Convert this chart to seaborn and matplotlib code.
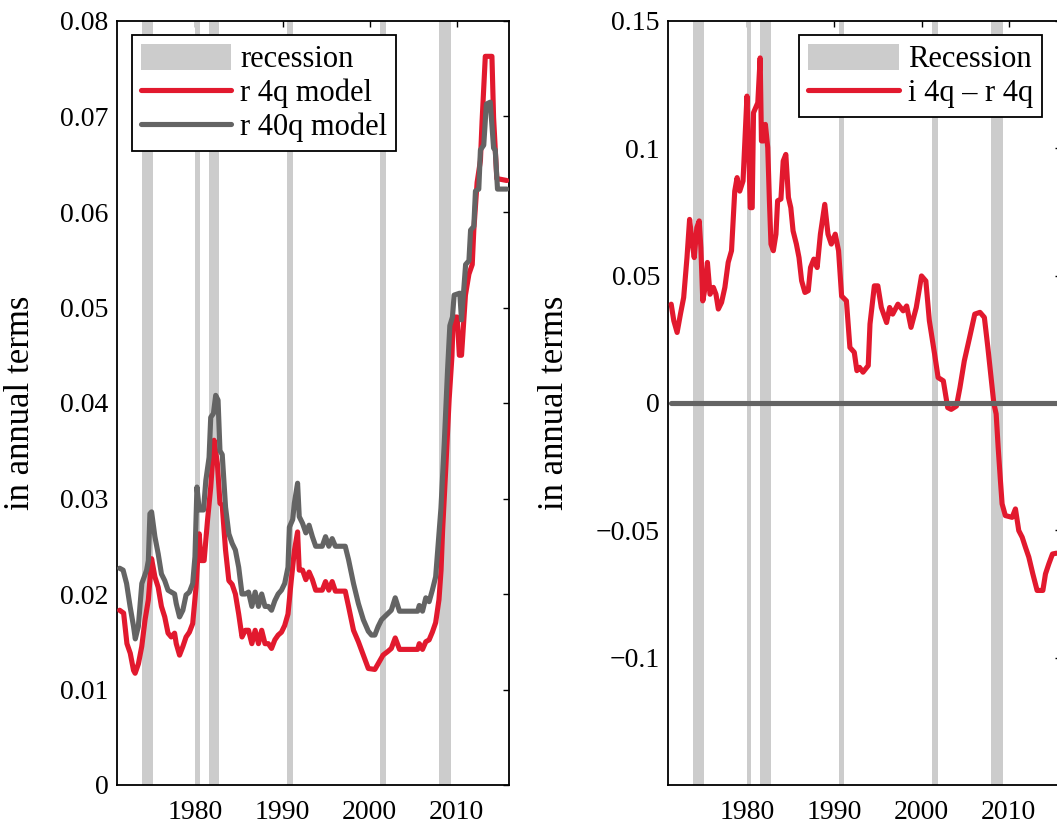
import matplotlib
matplotlib.use("Agg")
import matplotlib.pyplot as plt
from matplotlib.patches import Patch
from matplotlib.lines import Line2D
from matplotlib.ticker import FixedLocator, FuncFormatter
import numpy as np
import pandas as pd
import seaborn as sns

# ---------------------------------------------------------------- data
# NBER recession periods (decimal years)
REC_START = [1973.87, 1980.00, 1981.53, 1990.53, 2001.18, 2007.97]
REC_END = [1975.13, 1980.50, 1982.76, 1991.15, 2001.84, 2009.35]

# real rate, 4-quarter model
R4Q_YEAR = [1971.3, 1971.76, 1972.14, 1972.52, 1972.9, 1973.08, 1973.46, 1973.84, 1974.22, 1974.6,
            1974.97, 1975.35, 1975.73, 1976.1, 1976.48, 1976.86, 1977.23, 1977.61, 1977.8, 1978.18,
            1978.56, 1978.93, 1979.31, 1979.69, 1980.07, 1980.44, 1980.63, 1981.0, 1981.39, 1981.76,
            1982.14, 1982.52, 1982.82, 1983.08, 1983.46, 1983.84, 1984.22, 1984.59, 1984.97, 1985.35,
            1985.73, 1986.1, 1986.48, 1986.86, 1987.24, 1987.61, 1987.99, 1988.37, 1988.74, 1989.12,
            1989.5, 1989.88, 1990.25, 1990.63, 1991.0, 1991.36, 1991.73, 1991.92, 1992.3, 1992.68,
            1993.05, 1993.43, 1993.81, 1994.56, 1994.94, 1995.32, 1995.7, 1996.07, 1997.2, 1997.58,
            1998.15, 1998.71, 1999.28, 1999.85, 2000.6, 2000.98, 2001.54, 2002.11, 2002.49, 2002.94,
            2003.43, 2005.51, 2005.7, 2006.07, 2006.45, 2006.83, 2007.2, 2007.58, 2007.96, 2008.2,
            2008.38, 2008.76, 2009.13, 2009.45, 2009.6, 2010.05, 2010.3, 2010.55, 2011.0, 2011.4,
            2011.78, 2011.96, 2012.34, 2012.72, 2012.91, 2013.28, 2014.04, 2014.23, 2014.6, 2015.74]
R4Q = [0.0183, 0.0180, 0.0148, 0.0138, 0.0120, 0.0117, 0.0127, 0.0145, 0.0173, 0.0194,
       0.0237, 0.0218, 0.0207, 0.0187, 0.0176, 0.0159, 0.0155, 0.0159, 0.0148, 0.0136,
       0.0145, 0.0155, 0.0160, 0.0169, 0.0207, 0.0263, 0.0235, 0.0235, 0.0277, 0.0312,
       0.0361, 0.0337, 0.0295, 0.0293, 0.0246, 0.0214, 0.0210, 0.0200, 0.0179, 0.0155,
       0.0162, 0.0162, 0.0148, 0.0162, 0.0148, 0.0162, 0.0148, 0.0148, 0.0143, 0.0152,
       0.0157, 0.0160, 0.0167, 0.0179, 0.0214, 0.0245, 0.0265, 0.0225, 0.0225, 0.0215,
       0.0223, 0.0215, 0.0204, 0.0204, 0.0213, 0.0204, 0.0213, 0.0203, 0.0203, 0.0187,
       0.0162, 0.0150, 0.0136, 0.0122, 0.0121, 0.0127, 0.0136, 0.0140, 0.0143, 0.0154,
       0.0142, 0.0142, 0.0148, 0.0142, 0.0150, 0.0152, 0.0160, 0.0170, 0.0194, 0.0225,
       0.0267, 0.0335, 0.0404, 0.0449, 0.0490, 0.0490, 0.0450, 0.0450, 0.0513, 0.0535,
       0.0545, 0.0581, 0.0631, 0.0654, 0.0695, 0.0763, 0.0763, 0.0699, 0.0635, 0.0633]

# real rate, 40-quarter model
R40Q_YEAR = [1971.3, 1971.7, 1972.1, 1972.5, 1972.9, 1973.1, 1973.45, 1973.85, 1974.4, 1974.6,
             1974.78, 1974.97, 1975.35, 1975.73, 1976.1, 1976.48, 1976.86, 1977.23, 1977.61, 1977.8,
             1978.18, 1978.56, 1978.93, 1979.31, 1979.69, 1979.95, 1980.18, 1980.44, 1980.93, 1981.2,
             1981.57, 1981.76, 1982.07, 1982.33, 1982.6, 1982.82, 1983.08, 1983.46, 1983.84, 1984.22,
             1984.59, 1984.97, 1985.35, 1985.73, 1986.1, 1986.48, 1986.86, 1987.24, 1987.61, 1987.99,
             1988.37, 1988.74, 1989.12, 1989.5, 1989.88, 1990.25, 1990.63, 1990.79, 1991.17, 1991.36,
             1991.73, 1991.92, 1992.3, 1992.68, 1993.05, 1993.43, 1993.81, 1994.56, 1994.94, 1995.32,
             1995.7, 1996.07, 1997.2, 1997.58, 1998.15, 1998.71, 1999.28, 1999.85, 2000.22, 2000.6,
             2000.98, 2001.36, 2001.92, 2002.49, 2002.94, 2003.43, 2005.51, 2005.7, 2006.07, 2006.45,
             2006.83, 2007.2, 2007.58, 2007.81, 2008.19, 2008.57, 2008.95, 2009.21, 2009.51, 2009.7,
             2010.35, 2010.55, 2011.02, 2011.4, 2011.59, 2011.96, 2012.15, 2012.53, 2012.72, 2013.1,
             2013.4, 2013.85, 2014.23, 2014.42, 2014.68, 2015.74]
R40Q = [0.0227, 0.0225, 0.0211, 0.0187, 0.0166, 0.0153, 0.0166, 0.0211, 0.0225, 0.0235,
        0.0284, 0.0286, 0.0260, 0.0242, 0.0221, 0.0214, 0.0204, 0.0202, 0.0200, 0.0190,
        0.0176, 0.0183, 0.0199, 0.0202, 0.0211, 0.0239, 0.0312, 0.0288, 0.0288, 0.0319,
        0.0343, 0.0385, 0.0389, 0.0408, 0.0403, 0.0350, 0.0346, 0.0291, 0.0263, 0.0253,
        0.0246, 0.0228, 0.0200, 0.0200, 0.0202, 0.0187, 0.0202, 0.0187, 0.0200, 0.0187,
        0.0187, 0.0183, 0.0193, 0.0200, 0.0204, 0.0211, 0.0228, 0.0270, 0.0278, 0.0295,
        0.0316, 0.0281, 0.0274, 0.0264, 0.0272, 0.0260, 0.0250, 0.0250, 0.0260, 0.0250,
        0.0258, 0.0250, 0.0250, 0.0236, 0.0211, 0.0190, 0.0173, 0.0161, 0.0157, 0.0157,
        0.0166, 0.0173, 0.0178, 0.0183, 0.0196, 0.0182, 0.0182, 0.0188, 0.0182, 0.0196,
        0.0192, 0.0204, 0.0218, 0.0245, 0.0290, 0.0358, 0.0435, 0.0481, 0.0490, 0.0513,
        0.0515, 0.0487, 0.0545, 0.0549, 0.0581, 0.0585, 0.0622, 0.0624, 0.0665, 0.0670,
        0.0713, 0.0715, 0.0667, 0.0665, 0.0624, 0.0624]

# nominal minus real rate, 4-quarter horizon
GAP_YEAR = [1971.33, 1971.63, 1972.01, 1972.39, 1972.76, 1973.14, 1973.44, 1973.71, 1973.97, 1974.27,
            1974.54, 1974.73, 1974.95, 1975.22, 1975.48, 1975.78, 1976.16, 1976.46, 1976.73, 1977.1,
            1977.48, 1977.86, 1978.24, 1978.61, 1978.88, 1979.18, 1979.56, 1979.86, 1980.01, 1980.24,
            1980.39, 1980.61, 1980.76, 1981.25, 1981.52, 1981.67, 1981.9, 1982.12, 1982.39, 1982.58,
            1982.76, 1983.03, 1983.33, 1983.52, 1983.9, 1984.16, 1984.46, 1984.76, 1985.03, 1985.29,
            1985.67, 1985.97, 1986.27, 1986.65, 1987.03, 1987.29, 1987.67, 1988.05, 1988.42, 1988.92,
            1989.29, 1989.67, 1990.12, 1990.5, 1990.85, 1991.4, 1991.8, 1992.3, 1992.6, 1992.9,
            1993.3, 1993.9, 1994.1, 1994.6, 1995.0, 1995.4, 1996.0, 1996.35, 1996.7, 1997.3,
            1997.9, 1998.3, 1998.8, 1999.4, 2000.0, 2000.5, 2000.9, 2001.5, 2001.9, 2002.5,
            2003.0, 2003.4, 2004.0, 2004.4, 2004.9, 2005.5, 2006.1, 2006.7, 2007.2, 2007.6,
            2008.28, 2008.55, 2008.78, 2009.04, 2009.23, 2009.6, 2010.38, 2010.76, 2011.14, 2011.53,
            2011.9, 2012.29, 2012.75, 2013.24, 2013.9, 2014.2, 2014.58, 2015.0, 2015.4, 2015.75]
GAP = [0.0388, 0.0323, 0.0277, 0.0349, 0.0414, 0.0571, 0.0721, 0.0636, 0.0571, 0.0689,
       0.0715, 0.0610, 0.0401, 0.0454, 0.0552, 0.0427, 0.0454, 0.0427, 0.0369, 0.0395,
       0.0454, 0.0552, 0.0598, 0.0832, 0.0885, 0.0832, 0.0872, 0.1094, 0.1205, 0.0963,
       0.0767, 0.0767, 0.1140, 0.1179, 0.1355, 0.1029, 0.1029, 0.1094, 0.1003, 0.0794,
       0.0624, 0.0598, 0.0663, 0.0794, 0.0801, 0.0950, 0.0976, 0.0807, 0.0767, 0.0676,
       0.0624, 0.0571, 0.0480, 0.0434, 0.0441, 0.0532, 0.0565, 0.0532, 0.0663, 0.0780,
       0.0663, 0.0624, 0.0663, 0.0598, 0.0420, 0.0401, 0.0218, 0.0199, 0.0127, 0.0140,
       0.0121, 0.0147, 0.0310, 0.0460, 0.0460, 0.0375, 0.0316, 0.0375, 0.0349, 0.0388,
       0.0362, 0.0381, 0.0297, 0.0375, 0.0499, 0.0479, 0.0323, 0.0192, 0.0100, 0.0087,
       -0.0018, -0.0025, -0.0012, 0.0060, 0.0165, 0.0256, 0.0349, 0.0356, 0.0336, 0.0218,
       0.0000, -0.0043, -0.0174, -0.0305, -0.0396, -0.0442, -0.0449, -0.0416, -0.0501, -0.0527,
       -0.0566, -0.0605, -0.0671, -0.0736, -0.0736, -0.0671, -0.0632, -0.0593, -0.0590, -0.0590]

LEFT_TICKS_Y = [0, 0.01, 0.02, 0.03, 0.04, 0.05, 0.06, 0.07, 0.08]
RIGHT_TICKS_Y = [-0.1, -0.05, 0, 0.05, 0.1, 0.15]
TICKS_X = [1980, 1990, 2000, 2010]

# ---------------------------------------------------------------- style
RED = "#E2192E"
DARK = "#646464"
BAND = "#CCCCCC"

sns.set_theme(style="white")
plt.rcParams["font.family"] = ["Liberation Serif", "DejaVu Serif"]
plt.rcParams["axes.unicode_minus"] = True
plt.rcParams["text.color"] = "black"
plt.rcParams["axes.labelcolor"] = "black"
plt.rcParams["xtick.color"] = "black"
plt.rcParams["ytick.color"] = "black"

TICK_FS = 20
LEGEND_FS = 22
LABEL_FS = 25
LW = 3.7

fig = plt.figure(figsize=(10.57, 8.27), dpi=100)
W, H = 1057.0, 827.0
ax1 = fig.add_axes([117 / W, 42 / H, 392 / W, 764 / H])
ax2 = fig.add_axes([668.3 / W, 42 / H, 392.9 / W, 764 / H])


def num_fmt(v, _pos):
    s = "%g" % round(v, 4)
    if s == "-0":
        s = "0"
    return s.replace("-", "\u2212")


def style_axes(ax, yticks, ylim, label_x):
    ax.set_xlim(1971, 2016)
    ax.set_ylim(*ylim)
    ax.xaxis.set_major_locator(FixedLocator(TICKS_X))
    ax.yaxis.set_major_locator(FixedLocator(yticks))
    ax.yaxis.set_major_formatter(FuncFormatter(num_fmt))
    ax.xaxis.set_major_formatter(FuncFormatter(lambda v, p: "%d" % v))
    ax.tick_params(axis="both", which="major", direction="in", length=4.5, width=1.0,
                   top=True, right=True, labelsize=TICK_FS)
    ax.tick_params(axis="x", pad=11)
    ax.tick_params(axis="y", pad=6)
    for sp in ax.spines.values():
        sp.set_visible(True)
        sp.set_color("black")
        sp.set_linewidth(1.3)
    ax.set_xlabel("")
    ax.set_ylabel("in annual terms", fontsize=LABEL_FS)
    ax.yaxis.set_label_coords(label_x, 0.5)
    ax.grid(False)
    ax.set_facecolor("white")


def shade_recessions(ax):
    for s, e in zip(REC_START, REC_END):
        ax.axvspan(s, e, color=BAND, lw=0, zorder=1)


# ---------------------------------------------------------------- left panel
shade_recessions(ax1)
df_r4 = pd.DataFrame({"year": R4Q_YEAR, "value": R4Q})
df_r40 = pd.DataFrame({"year": R40Q_YEAR, "value": R40Q})
sns.lineplot(data=df_r4, x="year", y="value", ax=ax1, color=RED, lw=LW,
             sort=False, estimator=None, legend=False, zorder=3)
sns.lineplot(data=df_r40, x="year", y="value", ax=ax1, color=DARK, lw=LW,
             sort=False, estimator=None, legend=False, zorder=4)
style_axes(ax1, LEFT_TICKS_Y, (0, 0.08), -0.203)

leg_kw = dict(fontsize=LEGEND_FS, loc="upper left", borderaxespad=0, frameon=True,
              fancybox=False, framealpha=1, edgecolor="black", handlelength=2.95,
              handleheight=0.9, handletextpad=0.3, labelspacing=0.12, borderpad=0.3)
h1 = [Patch(facecolor=BAND, edgecolor="none"),
      Line2D([], [], color=RED, lw=LW),
      Line2D([], [], color=DARK, lw=LW)]
leg1 = ax1.legend(h1, ["recession", "r 4q model", "r 40q model"],
                  bbox_to_anchor=(0.0375, 0.9817), **leg_kw)
leg1.get_frame().set_linewidth(1.3)

# ---------------------------------------------------------------- right panel
shade_recessions(ax2)
df_gap = pd.DataFrame({"year": GAP_YEAR, "value": GAP})
df_zero = pd.DataFrame({"year": GAP_YEAR, "value": np.zeros(len(GAP_YEAR))})
sns.lineplot(data=df_gap, x="year", y="value", ax=ax2, color=RED, lw=LW,
             sort=False, estimator=None, legend=False, zorder=3)
sns.lineplot(data=df_zero, x="year", y="value", ax=ax2, color=DARK, lw=LW,
             sort=False, estimator=None, legend=False, zorder=4)
style_axes(ax2, RIGHT_TICKS_Y, (-0.15, 0.15), -0.2476)

h2 = [Patch(facecolor=BAND, edgecolor="none"),
      Line2D([], [], color=RED, lw=LW)]
leg2 = ax2.legend(h2, ["Recession", "i 4q \u2013 r 4q"],
                  bbox_to_anchor=(0.3334, 0.9817), **leg_kw)
leg2.get_frame().set_linewidth(1.3)

fig.savefig("out.png", dpi=100, facecolor="white")
